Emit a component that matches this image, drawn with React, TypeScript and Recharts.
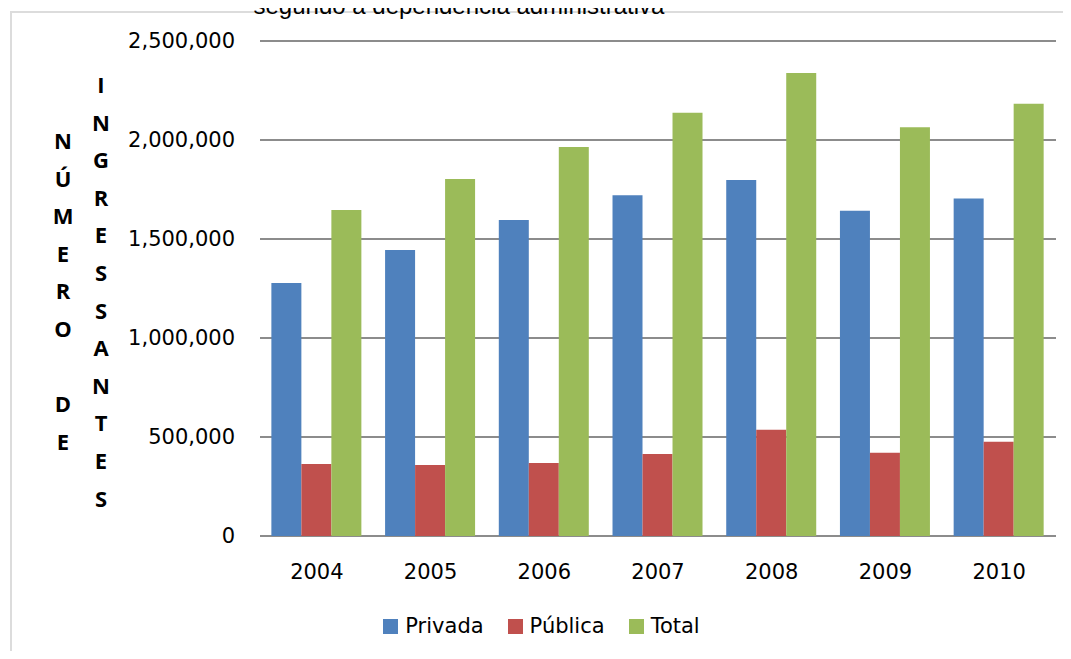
import React from 'react';
import { BarChart, Bar, XAxis, YAxis, CartesianGrid, Legend } from 'recharts';

const years = ['2004', '2005', '2006', '2007', '2008', '2009', '2010'];
const privada = [1278000, 1444000, 1596000, 1721000, 1798000, 1643000, 1705000];
const publica = [364000, 359000, 369000, 414000, 537000, 421000, 476000];
const total = [1646000, 1803000, 1965000, 2138000, 2338000, 2064000, 2183000];
const yTicks = [0, 500000, 1000000, 1500000, 2000000, 2500000];

const seriesColors = { Privada: '#4F81BD', Pública: '#C0504D', Total: '#9BBB59' };

const chartData = years.map((year, i) => ({
  year,
  Privada: privada[i],
  Pública: publica[i],
  Total: total[i],
}));

const axisFont = '"DejaVu Sans", sans-serif';

const renderLegend = (props: any) => {
  const { payload } = props;
  return (
    <div style={{ display: 'flex', justifyContent: 'center', paddingLeft: 36, fontFamily: axisFont, fontSize: 21, color: '#000' }}>
      {payload.map((entry: any) => (
        <div key={entry.value} style={{ display: 'flex', alignItems: 'center', marginRight: 24 }}>
          <span style={{ display: 'inline-block', width: 15, height: 15, background: entry.color, marginRight: 7 }} />
          <span>{entry.value}</span>
        </div>
      ))}
    </div>
  );
};

// letras empilhadas do título do eixo
const letterColumn = (word: string, left: number, top: number) => (
  <div
    style={{
      position: 'absolute',
      left: left - 15,
      top,
      width: 30,
      textAlign: 'center',
      fontFamily: '"Open Sans", sans-serif',
      fontWeight: 'bold',
      fontSize: 22,
      lineHeight: '37.6px',
      color: '#000',
    }}
  >
    {word.split('').map((ch, i) => (
      <div key={i} style={{ height: 37.6 }}>{ch === ' ' ? '\u00a0' : ch}</div>
    ))}
  </div>
);

const App = () => {
  return (
    <div style={{ position: 'relative', width: 1071, height: 659, margin: -8, overflow: 'hidden', background: '#fff' }}>
      <div
        style={{
          position: 'absolute',
          left: 10,
          top: 11,
          width: 1061,
          height: 648,
          borderLeft: '2px solid #dcdcdc',
          borderTop: '2px solid #dcdcdc',
        }}
      />
      <div
        style={{
          position: 'absolute',
          left: 0,
          width: 918,
          top: -8,
          textAlign: 'center',
          fontFamily: '"Liberation Sans", Arial, sans-serif',
          fontSize: 24,
          lineHeight: '28px',
          whiteSpace: 'nowrap',
          color: '#000',
        }}
      >
        segundo a dependência administrativa
      </div>
      {letterColumn('NÚMERO DE', 63, 122)}
      {letterColumn('INGRESSANTES', 101, 66)}
      <div style={{ position: 'absolute', left: 0, top: 0 }}>
        <BarChart
          width={1071}
          height={659}
          data={chartData}
          margin={{ top: 41, right: 15, bottom: 93, left: 0 }}
          barCategoryGap="10%"
          barGap={0}
        >
          <CartesianGrid vertical={false} stroke="#8c8c8c" strokeWidth={2} />
          <XAxis
            dataKey="year"
            axisLine={false}
            tickLine={false}
            tickSize={0}
            tickMargin={28}
            tick={{ fill: '#000', fontSize: 21, fontFamily: axisFont }}
          />
          <YAxis
            width={260}
            domain={[0, 2500000]}
            ticks={yTicks}
            axisLine={false}
            tickLine={false}
            tickSize={0}
            tickMargin={25}
            tick={{ fill: '#000', fontSize: 21, fontFamily: axisFont }}
            tickFormatter={(v: number) => v.toLocaleString('en-US')}
          />
          <Legend
            layout="horizontal"
            verticalAlign="middle"
            align="center"
            wrapperStyle={{ top: 614, left: 0, width: 1071 }}
            content={renderLegend}
          />
          <Bar dataKey="Privada" fill={seriesColors.Privada} isAnimationActive={false} />
          <Bar dataKey="Pública" fill={seriesColors['Pública']} isAnimationActive={false} />
          <Bar dataKey="Total" fill={seriesColors.Total} isAnimationActive={false} />
        </BarChart>
      </div>
    </div>
  );
};

export default App;
